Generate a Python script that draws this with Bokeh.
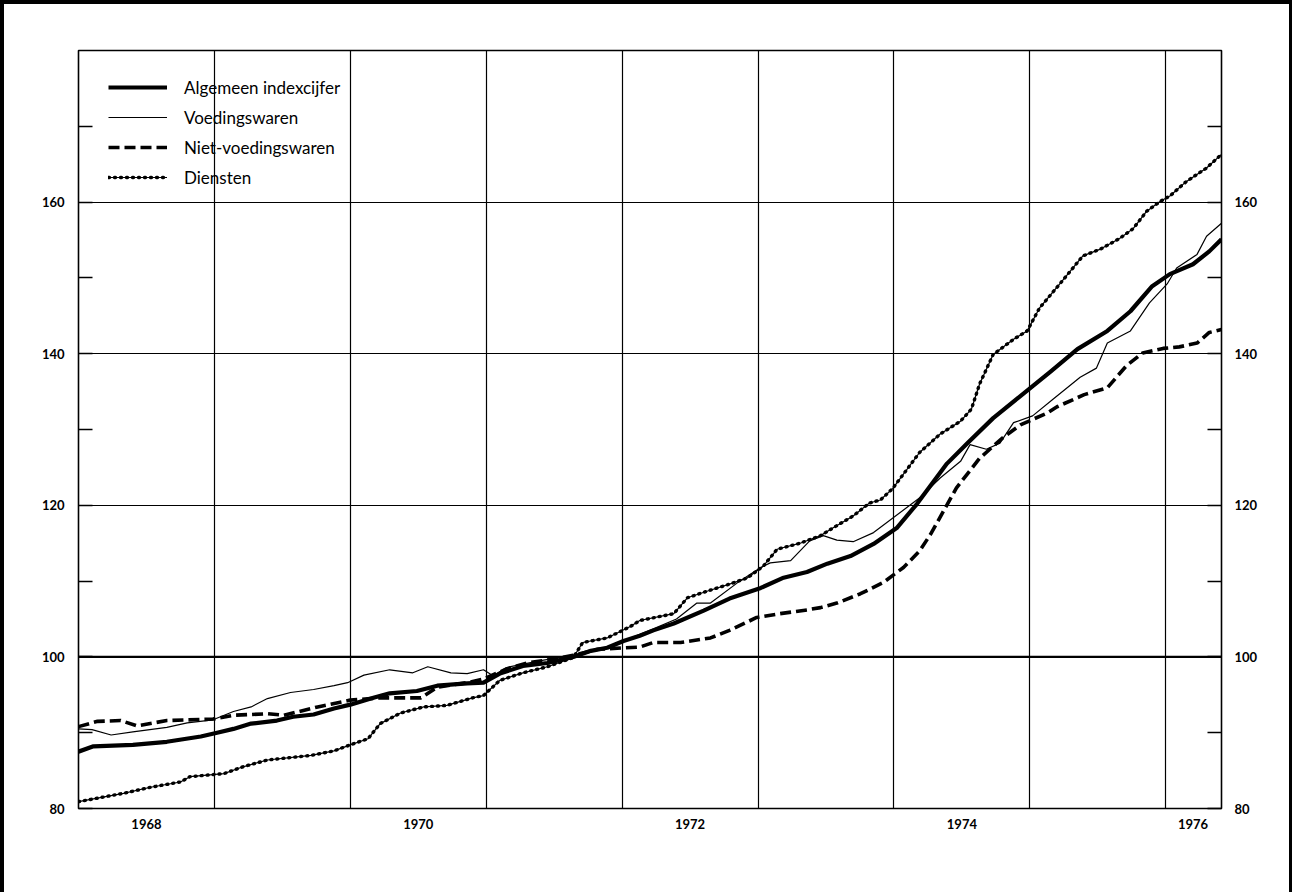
from bokeh.plotting import figure
from bokeh.models import (FixedTicker, LinearAxis, Range1d, Legend, LegendItem, Span)
from bokeh.embed import file_html
from bokeh.resources import INLINE

# ---- data (decimal years, index 1971 = 100) ----
alg_t = [1968.00, 1968.11, 1968.40, 1968.65, 1968.90, 1969.02, 1969.14, 1969.27, 1969.46,
         1969.58, 1969.73, 1969.88, 1970.00, 1970.17, 1970.29, 1970.49, 1970.64, 1970.86,
         1970.98, 1971.10, 1971.27, 1971.45, 1971.64, 1971.77, 1971.89, 1972.01, 1972.13,
         1972.23, 1972.38, 1972.60, 1972.79, 1973.02, 1973.18, 1973.36, 1973.51, 1973.68,
         1973.85, 1974.02, 1974.17, 1974.39, 1974.54, 1974.73, 1974.93, 1975.15, 1975.35,
         1975.57, 1975.74, 1975.90, 1976.03, 1976.20, 1976.32, 1976.41]
alg_v = [87.5, 88.2, 88.4, 88.8, 89.5, 90.0, 90.5, 91.2, 91.6,
         92.1, 92.4, 93.2, 93.7, 94.6, 95.2, 95.5, 96.2, 96.5,
         96.6, 97.8, 98.8, 99.2, 100.0, 100.8, 101.2, 102.1, 102.8,
         103.5, 104.4, 106.1, 107.7, 109.1, 110.4, 111.2, 112.3, 113.3,
         114.9, 117.0, 120.2, 125.5, 128.2, 131.5, 134.4, 137.6, 140.6,
         143.0, 145.6, 148.9, 150.5, 151.8, 153.5, 155.1]

voe_t = [1968.00, 1968.10, 1968.24, 1968.40, 1968.65, 1968.80, 1968.99, 1969.14, 1969.27,
         1969.39, 1969.56, 1969.73, 1969.88, 1969.98, 1970.10, 1970.29, 1970.46, 1970.57,
         1970.74, 1970.86, 1970.98, 1971.05, 1971.15, 1971.40, 1971.64, 1971.90, 1972.05,
         1972.23, 1972.40, 1972.55, 1972.65, 1972.85, 1973.02, 1973.09, 1973.24, 1973.38,
         1973.48, 1973.58, 1973.70, 1973.85, 1974.19, 1974.34, 1974.49, 1974.56, 1974.68,
         1974.78, 1974.88, 1975.02, 1975.17, 1975.37, 1975.49, 1975.57, 1975.74, 1975.88,
         1976.01, 1976.08, 1976.23, 1976.30, 1976.41]
voe_v = [90.5, 90.4, 89.7, 90.1, 90.7, 91.3, 91.7, 92.8, 93.4,
         94.5, 95.3, 95.7, 96.2, 96.6, 97.6, 98.3, 97.9, 98.7,
         97.9, 97.8, 98.3, 97.5, 98.6, 99.5, 100.2, 101.3, 102.4,
         103.7, 105.0, 107.1, 107.1, 109.8, 111.8, 112.4, 112.7, 115.3,
         116.0, 115.4, 115.2, 116.4, 121.0, 123.6, 125.8, 128.0, 127.4,
         128.2, 130.9, 131.8, 134.0, 136.9, 138.1, 141.4, 143.0, 146.7,
         149.2, 151.3, 153.1, 155.5, 157.2]

niet_t = [1968.00, 1968.14, 1968.31, 1968.43, 1968.65, 1968.99, 1969.14, 1969.39, 1969.51,
          1969.76, 1970.00, 1970.22, 1970.37, 1970.52, 1970.64, 1970.86, 1970.98, 1971.15,
          1971.30, 1971.49, 1971.64, 1971.82, 1972.01, 1972.13, 1972.23, 1972.43, 1972.65,
          1972.79, 1972.99, 1973.16, 1973.36, 1973.46, 1973.58, 1973.75, 1973.92, 1974.07,
          1974.19, 1974.27, 1974.46, 1974.63, 1974.80, 1974.93, 1975.13, 1975.20, 1975.40,
          1975.57, 1975.71, 1975.83, 1975.98, 1976.10, 1976.23, 1976.32, 1976.41]
niet_v = [90.8, 91.5, 91.6, 90.9, 91.6, 91.8, 92.3, 92.5, 92.3,
          93.4, 94.3, 94.6, 94.6, 94.6, 96.0, 96.6, 97.1, 98.4,
          99.2, 99.7, 100.2, 101.0, 101.2, 101.3, 101.9, 101.9, 102.5,
          103.5, 105.2, 105.7, 106.2, 106.5, 107.1, 108.3, 109.8, 111.8,
          114.0, 116.2, 122.3, 126.2, 128.9, 130.6, 132.2, 133.0, 134.6,
          135.5, 138.4, 140.1, 140.7, 140.9, 141.4, 142.8, 143.2]

dien_t = [1968.00, 1968.33, 1968.53, 1968.75, 1968.82, 1969.07, 1969.21, 1969.39, 1969.71,
          1969.88, 1970.00, 1970.13, 1970.22, 1970.37, 1970.54, 1970.71, 1970.90, 1970.98,
          1971.10, 1971.27, 1971.45, 1971.64, 1971.71, 1971.89, 1972.06, 1972.13, 1972.38,
          1972.48, 1972.63, 1972.79, 1972.92, 1973.04, 1973.14, 1973.31, 1973.46, 1973.55,
          1973.70, 1973.82, 1973.90, 1973.99, 1974.19, 1974.34, 1974.49, 1974.57, 1974.63,
          1974.73, 1974.88, 1974.98, 1975.07, 1975.22, 1975.39, 1975.52, 1975.66, 1975.76,
          1975.86, 1975.96, 1976.03, 1976.15, 1976.30, 1976.41]
dien_v = [80.9, 82.0, 82.8, 83.5, 84.2, 84.6, 85.5, 86.4, 87.0,
          87.6, 88.4, 89.2, 91.2, 92.6, 93.4, 93.6, 94.6, 94.9,
          96.9, 97.9, 98.7, 99.9, 101.9, 102.5, 104.0, 104.8, 105.7,
          107.8, 108.7, 109.6, 110.4, 112.0, 114.2, 115.0, 116.0, 117.0,
          118.6, 120.3, 120.7, 122.2, 127.0, 129.4, 131.1, 132.7, 136.0,
          139.9, 141.9, 143.0, 146.0, 149.2, 152.9, 153.8, 155.2, 156.5,
          158.8, 160.1, 160.8, 162.7, 164.5, 166.3]

series_labels = ["Algemeen indexcijfer", "Voedingswaren", "Niet-voedingswaren", "Diensten"]

year_ticks = [1968.5, 1970.5, 1972.5, 1974.5, 1976.2]
year_labels = ["1968", "1970", "1972", "1974", "1976"]
year_grid = [1969, 1970, 1971, 1972, 1973, 1974, 1975, 1976]
y_ticks = [80, 90, 100, 110, 120, 130, 140, 150, 160, 170]
y_labels = ["80", "", "100", "", "120", "", "140", "", "160", ""]
y_grid = [100, 120, 140, 160]

W, H = 1292, 892
FONT = "Lato"

p = figure(width=W, height=H, output_backend="svg", toolbar_location=None,
           x_range=Range1d(1968.0, 1976.41), y_range=Range1d(80, 180),
           min_border_left=74, min_border_right=75, min_border_top=46,
           min_border_bottom=88, x_axis_location=None, y_axis_location=None)
p.styles = {"border-left": "4px solid black", "border-top": "4px solid black",
            "border-right": "3px solid black"}
p.background_fill_color = "white"
p.border_fill_color = "white"
p.outline_line_color = "black"
p.outline_line_width = 1.6

# axes
xax = LinearAxis(ticker=FixedTicker(ticks=year_ticks),
                 major_label_overrides=dict(zip(year_ticks, year_labels)))
yl = LinearAxis(ticker=FixedTicker(ticks=y_ticks),
                major_label_overrides=dict(zip(y_ticks, y_labels)))
yr = LinearAxis(ticker=FixedTicker(ticks=y_ticks),
                major_label_overrides=dict(zip(y_ticks, y_labels)))
for ax in (xax, yl, yr):
    ax.axis_line_color = None
    ax.minor_tick_line_color = None
    ax.major_tick_out = 0
    ax.major_label_text_font = FONT
    ax.major_label_text_font_style = "bold"
    ax.major_label_text_font_size = "13px"
    ax.major_label_text_color = "black"
    ax.major_tick_line_color = "black"
    ax.major_tick_line_width = 1.5
xax.major_tick_in = 0
xax.major_tick_line_color = None
xax.major_label_standoff = 10
yl.major_tick_in = 14
yr.major_tick_in = 14
yl.major_label_standoff = 14
yr.major_label_standoff = 13
p.add_layout(xax, "below")
p.add_layout(yl, "left")
p.add_layout(yr, "right")

# grids
p.xgrid.ticker = FixedTicker(ticks=year_grid)
p.ygrid.ticker = FixedTicker(ticks=y_grid)
p.xgrid.grid_line_color = "black"
p.ygrid.grid_line_color = "black"
p.xgrid.grid_line_width = 1.2
p.ygrid.grid_line_width = 1.2
p.add_layout(Span(location=100, dimension="width", line_color="black", line_width=2.4))

# series
r_alg = p.line(alg_t, alg_v, line_color="black", line_width=4.2, line_join="round")
r_voe = p.line(voe_t, voe_v, line_color="black", line_width=1.2)
r_niet = p.line(niet_t, niet_v, line_color="black", line_width=3.6, line_dash="11 5")
r_dien1 = p.line(dien_t, dien_v, line_color="black", line_width=1.2)
r_dien2 = p.line(dien_t, dien_v, line_color="black", line_width=3.4, line_dash="1 5",
                 line_cap="round")

legend = Legend(items=[LegendItem(label=series_labels[0], renderers=[r_alg]),
                       LegendItem(label=series_labels[1], renderers=[r_voe]),
                       LegendItem(label=series_labels[2], renderers=[r_niet]),
                       LegendItem(label=series_labels[3], renderers=[r_dien1, r_dien2])],
                location=(30, 619), glyph_width=59, glyph_height=24, label_height=24,
                spacing=6, padding=0, margin=0, label_standoff=17,
                label_text_font=FONT, label_text_font_size="17px",
                label_text_color="black", border_line_color=None,
                background_fill_alpha=0)
p.add_layout(legend)

open("out.html", "w").write(file_html(p, INLINE))
